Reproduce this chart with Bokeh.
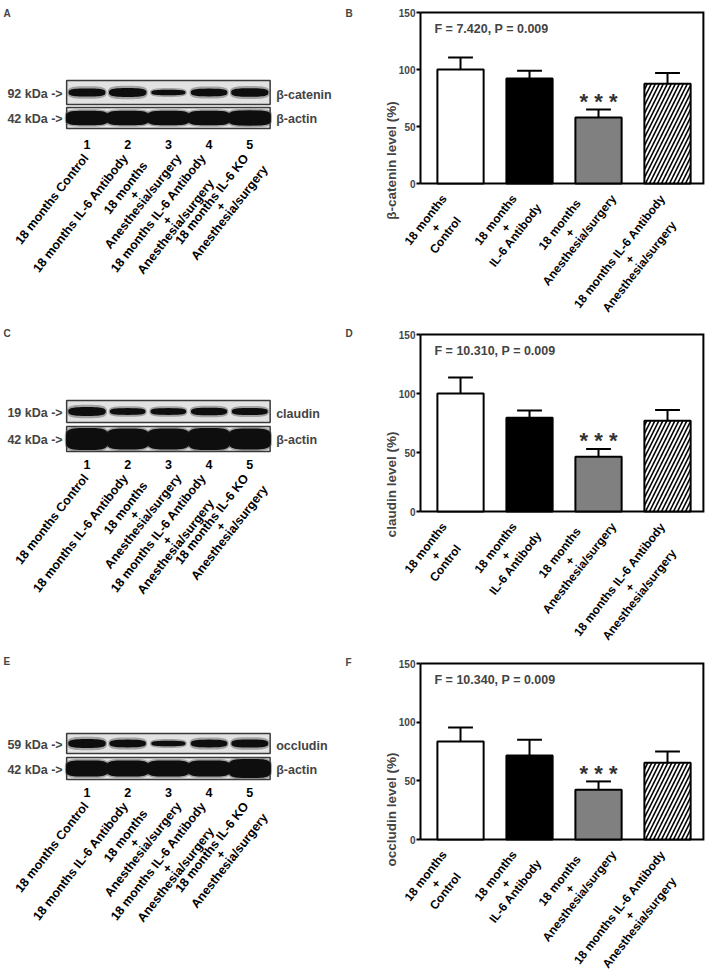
import math
import numpy as np
from bokeh.plotting import figure
from bokeh.layouts import row, column
from bokeh.models import Range1d, Label, FixedTicker, ColumnDataSource, LinearAxis
from bokeh.embed import file_html
from bokeh.resources import INLINE
from bokeh.core.properties import value

FONT = "Liberation Sans"

# ---------------- data ----------------
bar_label_lines = [["18 months", "+", "Control"],
                   ["18 months", "+", "IL-6 Antibody"],
                   ["18 months", "+", "Anesthesia/surgery"],
                   ["18 months IL-6 Antibody", "+", "Anesthesia/surgery"]]
catenin_mean = [100, 92, 58, 87.5]
catenin_sem = [10.5, 7, 7, 9.5]
claudin_mean = [100, 79.5, 46.5, 77]
claudin_sem = [13.5, 6, 6.5, 9]
occludin_mean = [83.5, 71.5, 42.5, 65.5]
occludin_sem = [12, 13.5, 7, 9.5]
significance = ["", "", "* * *", ""]
anova_text = ["F = 7.420, P = 0.009", "F = 10.310, P = 0.009", "F = 10.340, P = 0.009"]
y_ticks = [0, 50, 100, 150]
y_labels = ["β-catenin level (%)", "claudin level (%)", "occludin level (%)"]
bar_fills = ["white", "black", "#808080", "white"]
bar_hatch = [" ", " ", " ", "/"]

lanes = [1, 2, 3, 4, 5]
lane_numbers = ["1", "2", "3", "4", "5"]
lane_label_lines = [["18 months Control"],
                    ["18 months IL-6 Antibody"],
                    ["18 months", "+", "Anesthesia/surgery"],
                    ["18 months IL-6 Antibody", "+", "Anesthesia/surgery"],
                    ["18 months IL-6 KO", "+", "Anesthesia/surgery"]]
target_names = ["β-catenin", "claudin", "occludin"]
target_kda = ["92 kDa ->", "19 kDa ->", "59 kDa ->"]
actin_name = "β-actin"
actin_kda = "42 kDa ->"
catenin_band = [0.9, 1.0, 0.5, 0.85, 0.95]
claudin_band = [1.0, 0.7, 0.7, 0.8, 0.75]
occludin_band = [1.0, 0.85, 0.5, 0.85, 0.9]
actin_band_A = [0.8, 0.8, 0.8, 0.8, 0.85]
actin_band_C = [1.0, 0.95, 0.95, 1.0, 0.95]
actin_band_E = [0.85, 0.85, 0.85, 0.85, 1.0]

# ---------------- helpers ----------------
CW = {' ': .278, '+': .584, '-': .333, '/': .278, '(': .333, ')': .333, '%': .889, '>': .584,
      '0': .556, '1': .556, '2': .556, '4': .556, '5': .556, '6': .556, '8': .556, '9': .556,
      'A': .722, 'C': .722, 'D': .722, 'I': .278, 'K': .722, 'L': .611, 'O': .778,
      'a': .556, 'b': .611, 'd': .611, 'e': .556, 'g': .611, 'h': .611, 'i': .278, 'l': .278,
      'm': .889, 'n': .611, 'o': .611, 'r': .389, 's': .556, 't': .333, 'u': .611, 'y': .556}


def text_w(s, size):
    return sum(CW.get(ch, 0.556) for ch in s) * size


def rot_block(p, x, y, lines, cx, top_gap, size, lh, theta_deg):
    """Centred multi-line text rotated by theta; block centre cx px right of the anchor,
    topmost point of the text top_gap px below the anchor."""
    th = math.radians(theta_deg)
    s, c = math.sin(th), math.cos(th)
    n = len(lines)
    ws = [text_w(t, size) for t in lines]
    h2 = 0.36 * size
    tops = [(k - (n - 1) / 2) * lh * c - w / 2 * s - h2 * c for k, w in enumerate(ws)]
    cy_down = top_gap - min(tops)
    for k, t in enumerate(lines):
        f = k - (n - 1) / 2
        p.add_layout(Label(x=x, y=y, x_offset=cx + f * lh * s, y_offset=-(cy_down + f * lh * c),
                           text=t, angle=th, text_align="center", text_baseline="middle",
                           text_font=FONT, text_font_style="bold", text_font_size=f"{size}px",
                           text_color="black"))


def blob(cx, cy, a, b, e=0.65, n=48):
    t = np.linspace(0, 2 * np.pi, n, endpoint=False)
    c, s = np.cos(t), np.sin(t)
    xs = cx + a * np.sign(c) * np.abs(c) ** e
    ys = cy + b * np.sign(s) * np.abs(s) ** e
    return list(xs), list(ys)


# ---------------- layout constants (page pixels) ----------------
BLOT_W = 354
BAR_W = 352
BAR_BORDER = 44           # reserved y axis panel of bar panels
AXIS_GAP = 22             # px between frame start and the drawn y axis
CAT_PX = 69.0             # px per bar category
X_AXIS = 0.42             # position of the y axis / left box edge (category units)
BOX_RIGHT = 4.52          # right edge of the drawn bar box
LANE_PX = 40.7
LANE1_PX = 86.5
BAR_LABEL_DX = [-25, -24, -29, -38]        # block centre offsets of the rotated bar labels
BLOT_LABEL_DX = [-35, -47, -34, -42, -29]  # block centre offsets of the rotated lane labels


def bar_panel(ylabel, means, sems, stat, row_top, height, f_top, f_bot):
    x = np.array([1, 2, 3, 4], dtype=float)
    means = np.array(means, dtype=float)
    sems = np.array(sems, dtype=float)
    ppu = (f_bot - f_top) / 150.0
    y_lo = -(row_top + height - f_bot) / ppu
    y_hi = 150 + (f_top - row_top) / ppu
    x_start = X_AXIS - AXIS_GAP / CAT_PX
    x_end = x_start + (BAR_W - BAR_BORDER) / CAT_PX
    p = figure(width=BAR_W, height=height, x_range=Range1d(x_start, x_end), y_range=Range1d(y_lo, y_hi),
               title=None, x_axis_location=None, y_axis_location=None, toolbar_location=None,
               output_backend="svg",
               min_border_left=BAR_BORDER, min_border_right=0, min_border_top=0, min_border_bottom=0,
               outline_line_color=None)
    p.xgrid.visible = False
    p.ygrid.visible = False

    # axis carrying only the title (next to the frame)
    lab_ax = LinearAxis(axis_label=ylabel, bounds=(0, 150), ticker=FixedTicker(ticks=[]),
                        axis_line_color=None, major_tick_line_color=None, minor_tick_line_color=None,
                        major_tick_out=0, major_tick_in=0, minor_tick_out=0, minor_tick_in=0,
                        major_label_standoff=0, axis_label_standoff=0,
                        axis_label_text_font=FONT, axis_label_text_font_style="bold",
                        axis_label_text_font_size="13.5px")
    p.add_layout(lab_ax, "left")
    # axis with the ticks, drawn at the left edge of the plot box
    ax = LinearAxis(fixed_location=X_AXIS, bounds=(0, 150), ticker=FixedTicker(ticks=y_ticks),
                    minor_tick_line_color=None, major_tick_out=4, major_tick_in=0,
                    major_tick_line_width=2, axis_line_width=2,
                    major_label_text_font=FONT, major_label_text_font_style="bold",
                    major_label_text_font_size="10px", major_label_standoff=1)
    p.add_layout(ax, "left")

    # plot box (bottom, right, top)
    p.line(x=[X_AXIS, BOX_RIGHT, BOX_RIGHT, X_AXIS], y=[0, 0, 150, 150],
           line_color="black", line_width=2, line_join="miter")

    src = ColumnDataSource(dict(x=x, top=means, fill=bar_fills, hatch=bar_hatch))
    p.vbar(x="x", top="top", width=0.67, source=src, fill_color="fill", line_color="black",
           line_width=2, hatch_pattern="hatch", hatch_color="black", hatch_scale=8, hatch_weight=1.6)
    p.segment(x0=x, y0=means, x1=x, y1=means + sems, line_color="black", line_width=2)
    p.segment(x0=x - 0.18, y0=means + sems, x1=x + 0.18, y1=means + sems, line_color="black", line_width=2)
    p.text(x=x, y=means + sems + 7, text=significance, text_font=value(FONT), text_font_size="22px",
           text_font_style="bold", text_align="center", text_baseline="middle", text_color="#333333")

    p.add_layout(Label(x=X_AXIS, y=150, x_offset=14, y_offset=-16, text=stat, text_font=FONT,
                       text_font_style="bold", text_font_size="12.5px", text_baseline="alphabetic"))
    for xi, lines, dx in zip(x, bar_label_lines, BAR_LABEL_DX):
        rot_block(p, xi, 0, lines, cx=dx, top_gap=10, size=12, lh=12.5, theta_deg=52)
    return p


def blot_panel(letter, bar_letter, row_top, height, name, kda, target_band, actin_band, box1, box2, num_y,
               bar_letter_y):
    x0 = 1 + (0 - LANE1_PX) / LANE_PX
    x1 = x0 + BLOT_W / LANE_PX
    p = figure(width=BLOT_W, height=height, x_range=Range1d(x0, x1),
               y_range=Range1d(row_top + height, row_top), title=None,
               x_axis_location=None, y_axis_location=None, toolbar_location=None,
               output_backend="svg", min_border=0, outline_line_color=None)
    p.xgrid.visible = False
    p.ygrid.visible = False
    for (t, b) in (box1, box2):
        p.quad(left=0.5, right=5.5, top=t, bottom=b, fill_color="#e2e2e2",
               line_color="#3a3a3a", line_width=1.5)
    c1 = (box1[0] + box1[1]) / 2
    c2 = (box2[0] + box2[1]) / 2
    h2 = (box2[1] - box2[0]) / 2
    halo_x, halo_y, core_x, core_y = [], [], [], []
    for ln, it in zip(lanes, target_band):
        a = 0.38 + 0.08 * it
        b = 1.0 + 3.4 * it
        hx, hy = blob(ln, c1, a * 1.07, b * 1.35 + 0.8)
        cx, cy = blob(ln, c1, a, b)
        halo_x.append(hx); halo_y.append(hy); core_x.append(cx); core_y.append(cy)
    for ln, it in zip(lanes, actin_band):
        a = 0.53
        b = it * (h2 - 1.5)
        hx, hy = blob(ln, c2, a * 1.03, b + 1.5, e=0.5)
        cx, cy = blob(ln, c2, a * 0.98, b, e=0.5)
        halo_x.append(hx); halo_y.append(hy); core_x.append(cx); core_y.append(cy)
    p.patches(halo_x, halo_y, fill_color="#555555", fill_alpha=0.45, line_color=None)
    p.patches(core_x, core_y, fill_color="#0e0e0e", line_color=None)

    lbl = dict(text_font=FONT, text_font_style="bold", text_font_size="12.5px", text_baseline="middle")
    p.add_layout(Label(x=0.5, y=c1 + 1, x_offset=-4, text=kda, text_align="right", **lbl))
    p.add_layout(Label(x=0.5, y=c2 + 1, x_offset=-4, text=actin_kda, text_align="right", **lbl))
    p.add_layout(Label(x=5.5, y=c1 + 2, x_offset=6, text=name, text_align="left", **lbl))
    p.add_layout(Label(x=5.5, y=c2 + 1, x_offset=6, text=actin_name, text_align="left", **lbl))
    p.text(x=lanes, y=[num_y] * 5, text=lane_numbers, text_font=value(FONT), text_font_style="bold",
           text_font_size="12.5px", text_align="center", text_baseline="middle")
    for ln, lines, dx in zip(lanes, lane_label_lines, BLOT_LABEL_DX):
        rot_block(p, ln, num_y, lines, cx=dx, top_gap=8.5, size=12.5, lh=11, theta_deg=52)
    letter_style = dict(text_font=FONT, text_font_style="bold", text_font_size="10px",
                        text_baseline="alphabetic")
    p.add_layout(Label(x=x0, y=row_top + 13, x_offset=3, text=letter, **letter_style))
    p.add_layout(Label(x=x0, y=bar_letter_y, x_offset=345, text=bar_letter, **letter_style))
    return p


pA = blot_panel("A", "B", 0, 320, target_names[0], target_kda[0], catenin_band, actin_band_A,
                (80, 104), (107, 128), 144, 13)
pB = bar_panel(y_labels[0], catenin_mean, catenin_sem, anova_text[0], 0, 320, 12, 183)
pC = blot_panel("C", "D", 320, 328, target_names[1], target_kda[1], claudin_band, actin_band_C,
                (400, 422), (426, 451), 464, 333)
pD = bar_panel(y_labels[1], claudin_mean, claudin_sem, anova_text[1], 320, 328, 334, 511)
pE = blot_panel("E", "F", 648, 322, target_names[2], target_kda[2], occludin_band, actin_band_E,
                (733, 753), (757, 779), 792, 662)
pF = bar_panel(y_labels[2], occludin_mean, occludin_sem, anova_text[2], 648, 322, 663, 839)

layout = column(row(pA, pB), row(pC, pD), row(pE, pF))
open("out.html", "w").write(file_html(layout, INLINE))
